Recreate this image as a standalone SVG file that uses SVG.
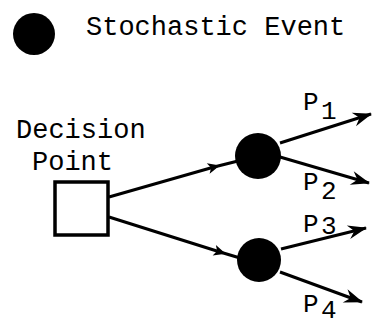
<svg xmlns="http://www.w3.org/2000/svg" width="373" height="325" viewBox="0 0 373 325">
  <style>
    .txt { font-family: "Liberation Mono", "DejaVu Sans Mono", monospace; font-size: 27px; fill: #000; }
    .lbl { font-family: "Liberation Mono", "DejaVu Sans Mono", monospace; font-size: 26px; fill: #000; }
    .event { fill: #000; }
    .box { fill: #fff; stroke: #000; stroke-width: 3.5; }
    .edge { fill: none; stroke: #000; stroke-width: 3; }
    .mid { marker-mid: url(#midArrow); }
    .end { marker-end: url(#endArrow); }
  </style>
  <defs>
    <marker id="endArrow" markerUnits="userSpaceOnUse" orient="auto" markerWidth="24" markerHeight="16" viewBox="-20 -8 22 16" refX="0" refY="0">
      <path d="M1,0 L-18,-7 L-12,0 L-18,7 Z" fill="#000"/>
    </marker>
    <marker id="midArrow" markerUnits="userSpaceOnUse" orient="auto" markerWidth="16" markerHeight="14" viewBox="-8 -7 16 14" refX="0" refY="0">
      <path d="M6,0 L-6,-5.5 L-3,0 L-6,5.5 Z" fill="#000"/>
    </marker>
  </defs>

  <!-- legend -->
  <g id="legend">
    <circle class="event" cx="34" cy="34" r="21"/>
    <text class="txt" x="86" y="35">Stochastic Event</text>
  </g>

  <!-- connectors -->
  <g id="connectors">
    <polyline class="edge mid" points="109,197 214,167 238,161"/>
    <polyline class="edge mid" points="109,217 220,252 240,258"/>
    <line class="edge end" x1="280" y1="143" x2="371" y2="114"/>
    <line class="edge end" x1="280" y1="157" x2="369" y2="183"/>
    <line class="edge end" x1="281" y1="249" x2="366" y2="228"/>
    <line class="edge end" x1="280" y1="272" x2="362" y2="302"/>
  </g>

  <!-- decision node -->
  <g id="decision">
    <text class="txt" x="16" y="138">Decision</text>
    <text class="txt" x="32" y="170">Point</text>
    <rect class="box" x="55" y="182" width="53" height="53"/>
  </g>

  <!-- chance nodes -->
  <g id="event1">
    <circle class="event" cx="258" cy="156" r="23"/>
  </g>
  <g id="event2">
    <circle class="event" cx="259" cy="260" r="22"/>
  </g>

  <!-- branch probabilities -->
  <g id="labels">
    <text class="lbl" x="303" y="110">P</text><text class="lbl" x="321" y="119">1</text>
    <text class="lbl" x="303" y="190">P</text><text class="lbl" x="321" y="199">2</text>
    <text class="lbl" x="303" y="232">P</text><text class="lbl" x="321" y="234">3</text>
    <text class="lbl" x="303" y="312">P</text><text class="lbl" x="321" y="318">4</text>
  </g>
</svg>
